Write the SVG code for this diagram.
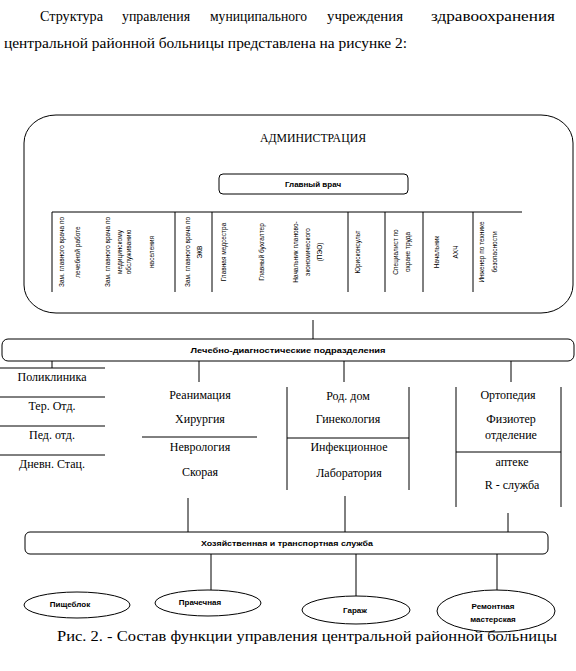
<svg xmlns="http://www.w3.org/2000/svg" width="576" height="671" viewBox="0 0 576 671">
<style>
.ln{stroke:#000;stroke-width:1;fill:none}
.bx{stroke:#000;stroke-width:1;fill:#fff}
.hd{font-family:'Liberation Serif','Times New Roman','DejaVu Serif',serif;font-size:15px;fill:#000}
.sr{font-family:'Liberation Serif','Times New Roman','DejaVu Serif',serif;font-size:12px;fill:#000;text-anchor:middle}
.sb{font-family:'Liberation Sans',Arial,sans-serif;font-size:8px;font-weight:bold;fill:#000;text-anchor:middle}
.vt{font-family:'Liberation Sans',Arial,sans-serif;font-size:6.5px;fill:#000;text-anchor:middle}
</style>
<rect width="576" height="671" fill="#fff"/>
<g id="header">
<text class="hd" x="40" y="21" textLength="63" lengthAdjust="spacingAndGlyphs">Структура</text>
<text class="hd" x="122" y="21" textLength="68" lengthAdjust="spacingAndGlyphs">управления</text>
<text class="hd" x="210" y="21" textLength="97" lengthAdjust="spacingAndGlyphs">муниципального</text>
<text class="hd" x="327" y="21" textLength="76" lengthAdjust="spacingAndGlyphs">учреждения</text>
<text class="hd" x="431" y="21" textLength="124" lengthAdjust="spacingAndGlyphs">здравоохранения</text>
<text class="hd" x="4" y="48" textLength="403" lengthAdjust="spacingAndGlyphs">центральной районной больницы представлена на рисунке 2:</text>
</g>
<g id="connectors">
<line class="ln" x1="313" y1="320" x2="313" y2="339"/>
<line class="ln" x1="52" y1="361" x2="52" y2="368"/>
<line class="ln" x1="199" y1="361" x2="199" y2="382"/>
<line class="ln" x1="344" y1="361" x2="344" y2="382"/>
<line class="ln" x1="511" y1="361" x2="511" y2="382"/>
<line class="ln" x1="188" y1="498" x2="188" y2="532"/>
<line class="ln" x1="345" y1="496" x2="345" y2="532"/>
<line class="ln" x1="508" y1="513" x2="508" y2="532"/>
<line class="ln" x1="211" y1="554" x2="211" y2="590"/>
<line class="ln" x1="356" y1="554" x2="356" y2="596"/>
<line class="ln" x1="497" y1="554" x2="497" y2="590"/>
</g>
<g id="administration">
<rect class="bx" x="24" y="115" width="549" height="198" rx="32" ry="28"/>
<text class="sr" x="313" y="142" font-size="13" textLength="106" lengthAdjust="spacingAndGlyphs">АДМИНИСТРАЦИЯ</text>
</g>
<g id="chief">
<rect class="bx" x="219" y="174" width="189" height="20" rx="4"/>
<text class="sb" x="313" y="187">Главный врач</text>
</g>
<g id="staff">
<line class="ln" x1="52" y1="212" x2="522" y2="212"/>
<line class="ln" x1="52" y1="212" x2="52" y2="292"/>
<line class="ln" x1="175" y1="212" x2="175" y2="292"/>
<line class="ln" x1="212" y1="212" x2="212" y2="292"/>
<line class="ln" x1="348" y1="212" x2="348" y2="292"/>
<line class="ln" x1="385" y1="212" x2="385" y2="292"/>
<line class="ln" x1="423" y1="212" x2="423" y2="292"/>
<line class="ln" x1="473" y1="212" x2="473" y2="292"/>
<text class="vt" transform="translate(64,252) rotate(-90)">Зам. главного врача по</text>
<text class="vt" transform="translate(80,252) rotate(-90)">лечебной работе</text>
<text class="vt" transform="translate(110,252) rotate(-90)">Зам. главного врача по</text>
<text class="vt" transform="translate(122,252) rotate(-90)">медицинскому</text>
<text class="vt" transform="translate(131,252) rotate(-90)">обслуживанию</text>
<text class="vt" transform="translate(154,252) rotate(-90)">населения</text>
<text class="vt" transform="translate(190,252) rotate(-90)">Зам. главного врача по</text>
<text class="vt" transform="translate(202,252) rotate(-90)">ЭКВ</text>
<text class="vt" transform="translate(226,252) rotate(-90)">Главная медсестра</text>
<text class="vt" transform="translate(264,252) rotate(-90)">Главный бухгалтер</text>
<text class="vt" transform="translate(298,252) rotate(-90)">Начальник планово-</text>
<text class="vt" transform="translate(310,252) rotate(-90)">экономического</text>
<text class="vt" transform="translate(322,252) rotate(-90)">(ПЭО)</text>
<text class="vt" transform="translate(360,252) rotate(-90)">Юрисконсульт</text>
<text class="vt" transform="translate(398,252) rotate(-90)">Специалист по</text>
<text class="vt" transform="translate(410,252) rotate(-90)">охране труда</text>
<text class="vt" transform="translate(439,252) rotate(-90)">Начальник</text>
<text class="vt" transform="translate(458,252) rotate(-90)">АХЧ</text>
<text class="vt" transform="translate(484,252) rotate(-90)">Инженер по технике</text>
<text class="vt" transform="translate(497,252) rotate(-90)">безопасности</text>
</g>
<g id="ldp">
<rect class="bx" x="2" y="339" width="572" height="22" rx="6"/>
<text class="sb" x="288" y="353" textLength="195" lengthAdjust="spacingAndGlyphs">Лечебно-диагностические подразделения</text>
</g>
<g id="dept1">
<line class="ln" x1="0" y1="368" x2="105" y2="368"/>
<line class="ln" x1="0" y1="397" x2="105" y2="397"/>
<line class="ln" x1="0" y1="426" x2="105" y2="426"/>
<line class="ln" x1="0" y1="455" x2="105" y2="455"/>
<text class="sr" x="52" y="381">Поликлиника</text>
<text class="sr" x="52" y="410">Тер. Отд.</text>
<text class="sr" x="52" y="439">Пед. отд.</text>
<text class="sr" x="52" y="468">Дневн. Стац.</text>
</g>
<g id="dept2">
<line class="ln" x1="142" y1="437" x2="257" y2="437"/>
<text class="sr" x="200" y="399">Реанимация</text>
<text class="sr" x="200" y="423">Хирургия</text>
<text class="sr" x="200" y="451">Неврология</text>
<text class="sr" x="200" y="476">Скорая</text>
</g>
<g id="dept3">
<line class="ln" x1="287" y1="387" x2="287" y2="490"/>
<line class="ln" x1="409" y1="387" x2="409" y2="490"/>
<line class="ln" x1="287" y1="438" x2="409" y2="438"/>
<text class="sr" x="348" y="400">Род. дом</text>
<text class="sr" x="348" y="423">Гинекология</text>
<text class="sr" x="349" y="451">Инфекционное</text>
<text class="sr" x="349" y="477">Лаборатория</text>
</g>
<g id="dept4">
<line class="ln" x1="456" y1="387" x2="456" y2="507"/>
<line class="ln" x1="561" y1="387" x2="561" y2="507"/>
<line class="ln" x1="456" y1="452" x2="561" y2="452"/>
<text class="sr" x="508" y="399">Ортопедия</text>
<text class="sr" x="511" y="423">Физиотер</text>
<text class="sr" x="511" y="439">отделение</text>
<text class="sr" x="512" y="466">аптеке</text>
<text class="sr" x="512" y="489">R - служба</text>
</g>
<g id="hoz">
<rect class="bx" x="25" y="532" width="523" height="22" rx="5"/>
<text class="sb" x="287" y="546" textLength="172" lengthAdjust="spacingAndGlyphs">Хозяйственная и транспортная служба</text>
</g>
<g id="pishcheblok">
<ellipse class="bx" cx="77" cy="605" rx="53" ry="13"/>
<text class="sb" x="70" y="607" font-size="7">Пищеблок</text>
</g>
<g id="prachechnaya">
<ellipse class="bx" cx="208" cy="603" rx="53" ry="13"/>
<text class="sb" x="200" y="605" font-size="7">Прачечная</text>
</g>
<g id="garazh">
<ellipse class="bx" cx="356" cy="610" rx="54" ry="14"/>
<text class="sb" x="355" y="613" font-size="7">Гараж</text>
</g>
<g id="remont">
<ellipse class="bx" cx="496" cy="611" rx="59" ry="21"/>
<text class="sb" x="493" y="609" font-size="7">Ремонтная</text>
<text class="sb" x="493" y="622" font-size="7">мастерская</text>
</g>
<text class="hd" x="57" y="641" textLength="500" lengthAdjust="spacingAndGlyphs">Рис. 2. -  Состав функции управления центральной районной больницы</text>
</svg>
